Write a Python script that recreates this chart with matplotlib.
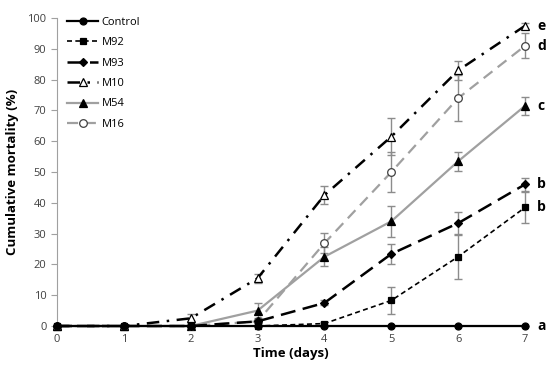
import matplotlib.pyplot as plt
import numpy as np

plt.rcParams['font.family'] = ['Open Sans', 'DejaVu Sans']

days = [0, 1, 2, 3, 4, 5, 6, 7]

control = [0, 0, 0, 0, 0, 0, 0, 0]
control_err = [0, 0, 0, 0, 0, 0, 0, 0]
m92 = [0, 0, 0, 0, 0.8, 8.3, 22.5, 38.5]
m92_err = [0, 0, 0, 0, 0.5, 4.5, 7.2, 5]
m93 = [0, 0, 0, 1.5, 7.5, 23.4, 33.4, 46]
m93_err = [0, 0, 0, 0.5, 0.8, 3.2, 3.6, 2]
m10 = [0, 0, 2.5, 15.5, 42.5, 61.5, 83, 97.5]
m10_err = [0, 0, 1.5, 1.5, 3, 6, 3, 1]
m54 = [0, 0, 0, 5, 22.5, 34, 53.5, 71.5]
m54_err = [0, 0, 0, 2.5, 3, 5, 3, 3]
m16 = [0, 0, 0, 1.5, 26.9, 50, 74, 91]
m16_err = [0, 0, 0, 0.5, 3.3, 6.5, 7.5, 4]

letters = ['a', 'b', 'b', 'e', 'c', 'd']

fig = plt.figure(figsize=(5.5, 3.69), dpi=100)
ax = fig.add_axes([0.1036, 0.1165, 0.851, 0.8345])

series = [
    ('Control', control, control_err, dict(color='black', ls='-', marker='o', mfc='black', lw=1.6, ms=5)),
    ('M92', m92, m92_err, dict(color='black', ls=(0, (3, 2)), marker='s', mfc='black', lw=1.2, ms=4.5)),
    ('M93', m93, m93_err, dict(color='black', ls=(0, (6, 3)), marker='D', mfc='black', lw=1.8, ms=3.8)),
    ('M10', m10, m10_err, dict(color='black', ls=(0, (5, 3, 1, 3)), marker='^', mfc='white', lw=1.8, ms=5.5)),
    ('M54', m54, m54_err, dict(color='#a0a0a0', ls='-', marker='^', mfc='black', mec='black', lw=1.6, ms=5.5)),
    ('M16', m16, m16_err, dict(color='#a0a0a0', ls=(0, (5, 3)), marker='o', mfc='white', mec='#404040', lw=1.6, ms=5.5)),
]

zs = [10, 5, 5, 5, 4, 4]
for (name, y, e, st), z in zip(series, zs):
    ax.errorbar(days, y, yerr=e, fmt='none', ecolor='#8c8c8c', elinewidth=1,
                capsize=3, capthick=1, zorder=2)
    mec = st.pop('mec', 'black')
    ax.plot(days, y, label=name, mec=mec, mew=0.9, zorder=z, **st)

for (name, y, e, st), lab in zip(series, letters):
    ax.text(7.18, y[-1], lab, fontsize=10, fontweight='bold', va='center', ha='left')

ax.set_xlim(0, 7)
ax.set_ylim(0, 100)
ax.set_xticks(days)
ax.set_yticks(np.arange(0, 101, 10))
ax.tick_params(axis='x', length=0, labelsize=8, pad=6, colors='#404040')
ax.tick_params(axis='y', length=4, labelsize=8, color='#a0a0a0', labelcolor='#404040')
for side in ['top', 'right']:
    ax.spines[side].set_visible(False)
for side in ['left', 'bottom']:
    ax.spines[side].set_color('#a0a0a0')
ax.spines['bottom'].set_zorder(1)
ax.set_xlabel('Time (days)', fontsize=9.5, fontweight='bold', labelpad=1)
ax.set_ylabel('Cumulative mortality (%)', fontsize=9.5, fontweight='bold', labelpad=6)
for artist in ax.get_children():
    try:
        artist.set_clip_on(False)
    except Exception:
        pass

leg = ax.legend(loc='upper left', bbox_to_anchor=(0.005, 1.03), frameon=False, fontsize=8,
                handlelength=2.8, labelspacing=0.85, handletextpad=0.3, borderaxespad=0.3)

fig.savefig('out.png', dpi=100)
